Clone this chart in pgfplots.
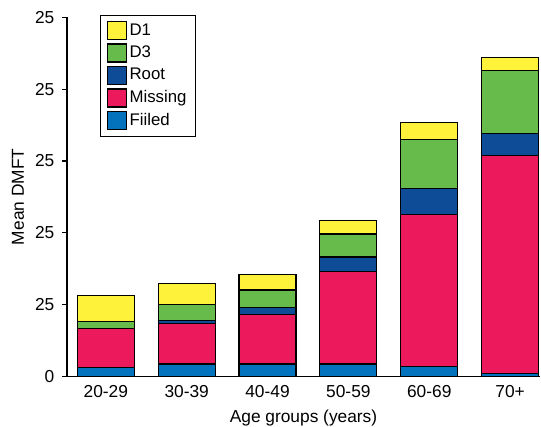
\documentclass[border=0pt]{standalone}
\usepackage{fontspec}
\setmainfont{Liberation Sans}
\usepackage{pgfplots}
\pgfplotsset{compat=1.18}
\definecolor{cD1}{HTML}{FFF23A}
\definecolor{cD3}{HTML}{66BB4A}
\definecolor{cRoot}{HTML}{0F4C97}
\definecolor{cMiss}{HTML}{EC1A5C}
\definecolor{cFill}{HTML}{0273BC}
\begin{document}
\fontsize{13pt}{15pt}\selectfont
\begin{tikzpicture}[x=1pt,y=1pt]
\path[use as bounding box] (-50.25pt,-37.125pt) rectangle ++(405.75pt,319.5pt);
\begin{axis}[
  scale only axis,
  width=354.75pt, height=269.4pt,
  ybar stacked, bar width=0.705,
  xmin=-0.48, xmax=5.37, ymin=0, ymax=25,
  axis x line=bottom, axis y line=left,
  axis line style={-, line width=0.8pt},
  xtick=data, xticklabels={20-29,30-39,40-49,50-59,60-69,70+},
  major x tick style={draw=none},
  ytick={0,5,10,15,20,25}, yticklabels={0,25,25,25,25,25},
  major tick length=3.5pt, tick align=outside,
  major y tick style={line width=0.8pt, black},
  /pgf/number format/assume math mode=true,
  ticklabel style={font=\fontsize{13pt}{15pt}\selectfont},
  xlabel={Age groups (years)}, ylabel={Mean DMFT},
  every axis x label/.style={at={(axis description cs:0.5,0)}, anchor=center, yshift=-31.5pt, font=\fontsize{13pt}{15pt}\selectfont},
  every axis y label/.style={at={(axis description cs:-0.1036,0.5)}, anchor=center, rotate=90, font=\fontsize{13pt}{15pt}\selectfont},
  xticklabel style={yshift=1pt},
  yticklabel style={xshift=-1.5pt},
  legend style={at={(rel axis cs:0.0698,1.0064)}, anchor=north west,
    draw=black, line width=0.8pt, font=\fontsize{12.6pt}{14pt}\selectfont,
    row sep=2.1pt, inner xsep=5pt, inner ysep=4pt},
  legend cell align=left,
  reverse legend,
  legend image code/.code={\draw[#1, line width=0.8pt] (0pt,-6.75pt) rectangle (14pt,6.75pt);},
  every axis plot/.append style={draw=black, line width=0.8pt},
]
\addplot[fill=cFill] coordinates {(0,0.61) (1,0.87) (2,0.87) (3,0.87) (4,0.68) (5,0.22)};
\addplot[fill=cMiss] coordinates {(0,2.70) (1,2.81) (2,3.46) (3,6.41) (4,10.59) (5,15.14)};
\addplot[fill=cRoot] coordinates {(0,0.00) (1,0.23) (2,0.49) (3,1.04) (4,1.81) (5,1.53)};
\addplot[fill=cD3] coordinates {(0,0.55) (1,1.07) (2,1.20) (3,1.60) (4,3.41) (5,4.38)};
\addplot[fill=cD1] coordinates {(0,1.75) (1,1.51) (2,1.05) (3,0.91) (4,1.21) (5,0.93)};
\legend{Fiiled,Missing,Root,D3,D1}
\end{axis}
\end{tikzpicture}
\end{document}
